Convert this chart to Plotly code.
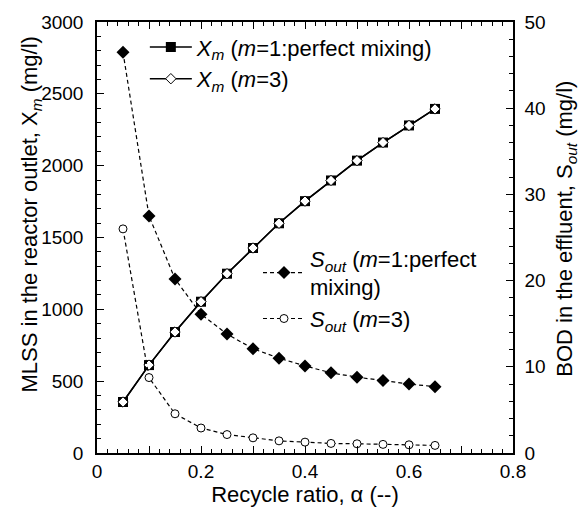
import plotly.graph_objects as go

alpha = [0.05, 0.10, 0.15, 0.20, 0.25, 0.30, 0.35, 0.40, 0.45, 0.50, 0.55, 0.60, 0.65]
xm_m1 = [355, 612, 842, 1053, 1248, 1427, 1599, 1753, 1897, 2035, 2161, 2280, 2395]
xm_m3 = [355, 612, 842, 1053, 1248, 1427, 1599, 1753, 1897, 2035, 2161, 2280, 2395]
sout_m1 = [46.5, 27.5, 20.2, 16.1, 13.8, 12.1, 11.0, 10.1, 9.3, 8.8, 8.4, 8.0, 7.7]
sout_m3 = [26.0, 8.75, 4.55, 2.9, 2.14, 1.76, 1.41, 1.26, 1.11, 1.07, 1.0, 0.95, 0.88]

FONT = "Liberation Sans, Arial, sans-serif"

fig = go.Figure()
fig.add_trace(go.Scatter(
    x=alpha, y=xm_m1, mode="lines+markers",
    name="<i>X<sub>m</sub></i> (<i>m</i>=1:perfect mixing)",
    line=dict(color="black", width=1.5),
    marker=dict(symbol="square", size=10, color="black"),
    legend="legend"))
fig.add_trace(go.Scatter(
    x=alpha, y=xm_m3, mode="lines+markers",
    name="<i>X<sub>m</sub></i> (<i>m</i>=3)",
    line=dict(color="black", width=1.5),
    marker=dict(symbol="diamond", size=8, color="white", line=dict(color="black", width=1)),
    legend="legend"))
fig.add_trace(go.Scatter(
    x=alpha, y=sout_m1, mode="lines+markers", yaxis="y2",
    name="<i>S<sub>out</sub></i> (<i>m</i>=1:perfect<br>mixing)",
    line=dict(color="black", width=1.2, dash="4px,3px"),
    marker=dict(symbol="diamond", size=10, color="black"),
    legend="legend2"))
fig.add_trace(go.Scatter(
    x=alpha, y=sout_m3, mode="lines+markers", yaxis="y2",
    name="<i>S<sub>out</sub></i> (<i>m</i>=3)",
    line=dict(color="black", width=1.2, dash="4px,3px"),
    marker=dict(symbol="circle", size=8, color="white", line=dict(color="black", width=1)),
    legend="legend2"))

xtickvals = [0, 0.1, 0.2, 0.3, 0.4, 0.5, 0.6, 0.7, 0.8]
xticktext = ["0", "", "0.2", "", "0.4", "", "0.6", "", "0.8"]

fig.update_layout(
    width=581, height=514,
    margin=dict(l=97, r=68, t=17, b=61),
    paper_bgcolor="white", plot_bgcolor="white",
    font=dict(family=FONT, size=19, color="black"),
    xaxis=dict(range=[0, 0.8], tickvals=xtickvals, ticktext=xticktext,
               ticks="inside", ticklen=7, tickwidth=1.2, tickcolor="black",
               showline=True, linecolor="black", linewidth=1.5, mirror="ticks",
               showgrid=False, zeroline=False,
               minor=dict(dtick=0.02, ticks="inside", ticklen=4, tickcolor="black", tickwidth=1),
               title=dict(text="Recycle ratio, α (--)", standoff=2, font=dict(size=22)),
               tickfont=dict(size=19)),
    yaxis=dict(range=[0, 3000], dtick=500,
               ticks="inside", ticklen=7, tickwidth=1.2, tickcolor="black",
               showline=True, linecolor="black", linewidth=1.5,
               showgrid=False, zeroline=False, ticklabelstandoff=8,
               minor=dict(dtick=100, ticks="inside", ticklen=4, tickcolor="black", tickwidth=1),
               tickfont=dict(size=19)),
    yaxis2=dict(range=[0, 50], dtick=10, overlaying="y", side="right",
                ticks="inside", ticklen=7, tickwidth=1.2, tickcolor="black",
                showline=True, linecolor="black", linewidth=1.5,
                showgrid=False, zeroline=False, ticklabelstandoff=6,
                minor=dict(dtick=2, ticks="inside", ticklen=4, tickcolor="black", tickwidth=1),
                tickfont=dict(size=19)),
    legend=dict(x=0.115, y=0.99, xanchor="left", yanchor="top",
                bgcolor="rgba(0,0,0,0)", font=dict(size=22), tracegroupgap=0,
                itemwidth=42),
    legend2=dict(x=0.387, y=0.5, xanchor="left", yanchor="top",
                 bgcolor="rgba(0,0,0,0)", font=dict(size=22), tracegroupgap=0,
                 itemwidth=42),
    annotations=[
        dict(text="MLSS in the reactor outlet, X<sub><i>m</i></sub> (mg/l)",
             textangle=-90, xref="paper", yref="paper",
             x=-0.159, y=0.553, xanchor="center", yanchor="middle",
             showarrow=False, font=dict(size=22)),
        dict(text="BOD in the effluent, S<sub><i>out</i></sub> (mg/l)",
             textangle=-90, xref="paper", yref="paper",
             x=1.127, y=0.52, xanchor="center", yanchor="middle",
             showarrow=False, font=dict(size=22)),
    ],
)

fig.write_html("out.html")
